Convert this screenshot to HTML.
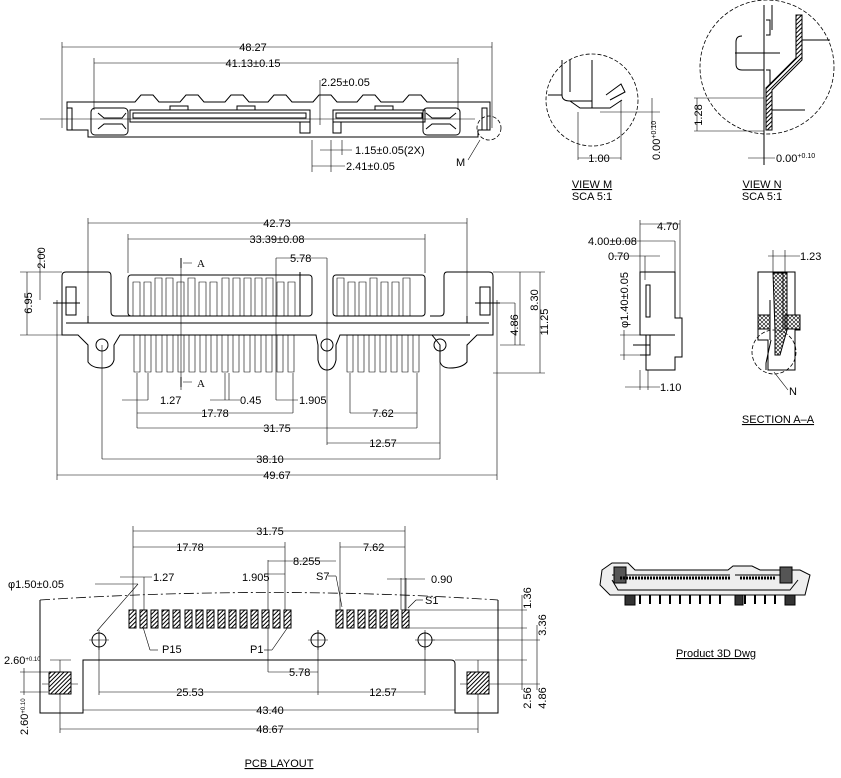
<!DOCTYPE html>
<html><head><meta charset="utf-8"><style>
html,body{margin:0;padding:0;background:#fff;width:841px;height:778px;overflow:hidden}
svg{display:block}
text{font-family:"Liberation Sans Narrow","Liberation Sans",sans-serif;font-size:11px;fill:#000}
.l{stroke:#000;stroke-width:1;fill:none}
.t{stroke:#000;stroke-width:0.6;fill:none}
.d{stroke:#000;stroke-width:0.8;fill:none;stroke-dasharray:4 2}
</style></head><body>
<svg width="841" height="778" viewBox="0 0 841 778" xmlns="http://www.w3.org/2000/svg">
<defs>
<pattern id="h" width="3" height="3" patternUnits="userSpaceOnUse" patternTransform="rotate(45)"><rect width="3" height="3" fill="#fff"/><line x1="1.5" y1="0" x2="1.5" y2="3" stroke="#000" stroke-width="1"/></pattern>
<pattern id="x" width="4" height="4" patternUnits="userSpaceOnUse"><path d="M0 0L4 4M4 0L0 4" stroke="#000" stroke-width="0.6"/></pattern>
</defs>

<!-- ===== TOP VIEW ===== -->
<g class="t">
<line x1="62" y1="47" x2="492" y2="47"/><line x1="62" y1="42" x2="62" y2="128"/><line x1="492" y1="42" x2="492" y2="128"/>
<line x1="94" y1="63" x2="458" y2="63"/><line x1="94" y1="58" x2="94" y2="110"/><line x1="458" y1="58" x2="458" y2="110"/>
<line x1="320" y1="80" x2="320" y2="125"/>
<line x1="312" y1="172" x2="312" y2="140"/><line x1="331" y1="172" x2="331" y2="140"/><line x1="342" y1="155" x2="342" y2="140"/>
<line x1="312" y1="166" x2="345" y2="166"/><line x1="320" y1="150" x2="352" y2="150"/>
<line x1="40" y1="119" x2="475" y2="119"/>
<line x1="480" y1="140" x2="468" y2="160"/>
</g>
<g class="l">
<path d="M67 102 H135 L141 95 H153 L159 102 H180 L186 95 H198 L204 102 H225 L231 95 H243 L249 102 H268 L274 95 H286 L292 102 H313 L319 95 H331 L337 102 H357 L363 95 H375 L381 102 H403 L409 95 H421 L427 102 H490 V130 H478 V137 H88 V130 H67 Z"/>
<rect x="91" y="108" width="37" height="27" rx="4"/>
<rect x="423" y="108" width="37" height="27" rx="4"/>
<path d="M98 113 L104 118 H122 L126 113 M98 129 L104 124 H122 L126 129"/>
<path d="M426 113 L432 118 H450 L456 113 M426 129 L432 124 H450 L456 129"/>
<rect x="130" y="110" width="180" height="12"/><rect x="133" y="113" width="173" height="5"/>
<rect x="333" y="110" width="92" height="12"/><rect x="336" y="113" width="86" height="5"/>
<rect x="170" y="106" width="18" height="4"/><rect x="237" y="106" width="18" height="4"/><rect x="375" y="106" width="18" height="4"/>
<path d="M300 122 V133 H310 V122 M333 122 V133 H341 V122"/>
<rect x="67" y="108" width="5" height="22"/><rect x="482" y="108" width="5" height="22"/>
</g>
<circle cx="489" cy="128" r="12" class="d"/>
<text x="321" y="86">2.25±0.05</text>
<text x="355" y="154">1.15±0.05(2X)</text>
<text x="346" y="170">2.41±0.05</text>
<text x="456" y="166">M</text>
<text x="253" y="51" text-anchor="middle">48.27</text>
<text x="253" y="67" text-anchor="middle">41.13±0.15</text>

<!-- ===== FRONT VIEW ===== -->
<g class="t">
<line x1="88" y1="223" x2="467" y2="223"/><line x1="88" y1="218" x2="88" y2="320"/><line x1="467" y1="218" x2="467" y2="320"/>
<line x1="128" y1="239" x2="425" y2="239"/><line x1="128" y1="234" x2="128" y2="273"/><line x1="425" y1="234" x2="425" y2="273"/>
<line x1="276" y1="258" x2="327" y2="258"/><line x1="276" y1="258" x2="276" y2="400"/><line x1="327" y1="258" x2="327" y2="445"/>
<line x1="20" y1="272" x2="62" y2="272"/><line x1="20" y1="335" x2="62" y2="335"/>
<line x1="40" y1="250" x2="40" y2="300"/><line x1="27" y1="272" x2="27" y2="335"/>
<line x1="493" y1="272" x2="545" y2="272"/><line x1="540" y1="272" x2="540" y2="373"/><line x1="493" y1="373" x2="545" y2="373"/>
<line x1="520" y1="272" x2="520" y2="345"/><line x1="500" y1="345" x2="525" y2="345"/>
<line x1="480" y1="303" x2="515" y2="303"/><line x1="515" y1="303" x2="515" y2="345"/>
<line x1="122" y1="400" x2="148" y2="400"/><line x1="137" y1="373" x2="137" y2="400"/><line x1="148" y1="373" x2="148" y2="400"/>
<line x1="210" y1="400" x2="240" y2="400"/><line x1="225" y1="373" x2="225" y2="400"/><line x1="229" y1="373" x2="229" y2="400"/>
<line x1="276" y1="400" x2="298" y2="400"/><line x1="293" y1="373" x2="293" y2="413"/>
<line x1="137" y1="413" x2="293" y2="413"/><line x1="137" y1="400" x2="137" y2="428"/>
<line x1="350" y1="413" x2="417" y2="413"/><line x1="350" y1="373" x2="350" y2="413"/><line x1="417" y1="373" x2="417" y2="428"/>
<line x1="137" y1="428" x2="417" y2="428"/>
<line x1="327" y1="443" x2="440" y2="443"/><line x1="440" y1="345" x2="440" y2="459"/>
<line x1="102" y1="459" x2="440" y2="459"/><line x1="102" y1="345" x2="102" y2="459"/>
<line x1="57" y1="475" x2="497" y2="475"/><line x1="57" y1="300" x2="57" y2="480"/><line x1="497" y1="300" x2="497" y2="480"/>
<line x1="181" y1="258" x2="181" y2="390"/>
</g>
<g class="l">
<path d="M62 276 Q62 272 66 272 H108 Q111 272 111 276 V312 Q111 316 115 316 H300 V272 M62 276 V335 H78 L88 345 V362 Q92 368 102 368 Q112 368 114 360 V345 L120 335 H316 L318 345 V360 Q320 370 327 370 Q334 370 336 360 V345 L340 335 H470"/>
<path d="M493 276 Q493 272 489 272 H447 Q444 272 444 276 V312 Q444 316 440 316 H430 M493 276 V335 H477 L467 345 V362 Q462 368 450 368 Q442 368 440 362 V345 L432 335"/>
<path d="M88 316 V323 H467 V316"/>
<path d="M66 323 H88 M467 323 H489"/>
<rect x="128" y="275" width="184" height="41" rx="3"/>
<rect x="333" y="275" width="92" height="41" rx="3"/>
<rect x="66" y="287" width="10" height="28"/><rect x="480" y="287" width="10" height="28"/>
<line x1="53" y1="303" x2="80" y2="303"/><line x1="475" y1="303" x2="500" y2="303"/>
</g>
<g class="t">
<path d="M133 316V282h7v34 M144 316V282h7v34 M155 316V278h7v38 M166 316V278h7v38 M177 316V282h7v34 M188 316V278h7v38 M199 316V282h7v34 M210 316V282h7v34 M222 316V278h7v38 M233 316V278h7v38 M244 316V278h7v38 M255 316V278h7v38 M266 316V278h7v38 M277 316V282h7v34 M288 316V282h7v34"/>
<path d="M337 316V278h7v38 M348 316V282h7v34 M359 316V282h7v34 M370 316V278h7v38 M381 316V282h7v34 M392 316V282h7v34 M403 316V278h7v38"/>
<path d="M134 335V372h6V335 M145 335V372h6V335 M156 335V372h6V335 M167 335V372h6V335 M178 335V372h6V335 M189 335V372h6V335 M200 335V372h6V335 M211 335V372h6V335 M222 335V372h6V335 M233 335V372h6V335 M244 335V372h6V335 M255 335V372h6V335 M266 335V372h6V335 M277 335V372h6V335 M288 335V372h6V335"/>
<path d="M347 335V372h6V335 M358 335V372h6V335 M369 335V372h6V335 M380 335V372h6V335 M391 335V372h6V335 M402 335V372h6V335 M413 335V372h6V335"/>
</g>
<circle cx="102" cy="345" r="6" class="l"/><circle cx="327" cy="345" r="6" class="l"/><circle cx="440" cy="345" r="6" class="l"/>
<g class="l" stroke-width="2"><line x1="181" y1="258" x2="181" y2="268"/><line x1="181" y1="377" x2="181" y2="387"/></g>
<path d="M183 263 H192 M183 382 H192" class="t"/>
<text x="197" y="267" style="font-family:'Liberation Serif',serif">A</text>
<text x="197" y="387" style="font-family:'Liberation Serif',serif">A</text>
<text x="277" y="227" text-anchor="middle">42.73</text>
<text x="277" y="243" text-anchor="middle">33.39±0.08</text>
<text x="290" y="262">5.78</text>
<text x="160" y="404">1.27</text>
<text x="240" y="404">0.45</text>
<text x="299" y="404">1.905</text>
<text x="215" y="417" text-anchor="middle">17.78</text>
<text x="383" y="417" text-anchor="middle">7.62</text>
<text x="277" y="432" text-anchor="middle">31.75</text>
<text x="383" y="447" text-anchor="middle">12.57</text>
<text x="270" y="463" text-anchor="middle">38.10</text>
<text x="277" y="479" text-anchor="middle">49.67</text>
<text transform="translate(45,258) rotate(-90)" text-anchor="middle">2.00</text>
<text transform="translate(32,303) rotate(-90)" text-anchor="middle">6.95</text>
<text transform="translate(518,325) rotate(-90)" text-anchor="middle">4.86</text>
<text transform="translate(538,300) rotate(-90)" text-anchor="middle">8.30</text>
<text transform="translate(548,322) rotate(-90)" text-anchor="middle">11.25</text>

<!-- ===== VIEW M ===== -->
<circle cx="592" cy="100" r="46" class="d"/>
<g class="l">
<path d="M562 60 V95 Q562 101 570 101 H592 M570 60 V92 M562 95 H548 M592 60 V108 M610 100 L625 92 L621 84 L606 95"/>
<path d="M570 101 L580 108 H610 L622 100"/>
</g>
<g class="t"><line x1="578" y1="112" x2="578" y2="160"/><line x1="621" y1="100" x2="621" y2="160"/><line x1="578" y1="158" x2="621" y2="158"/><line x1="600" y1="112" x2="660" y2="112"/><line x1="652" y1="98" x2="652" y2="130"/></g>
<text x="599" y="162" text-anchor="middle">1.00</text>
<text transform="translate(660,160) rotate(-90)" font-size="10">0.00<tspan font-size="7" dy="-4">+0.10</tspan></text>
<text x="592" y="188" text-anchor="middle" text-decoration="underline">VIEW  M</text>
<text x="592" y="200" text-anchor="middle">SCA  5:1</text>

<!-- ===== VIEW N ===== -->
<circle cx="767" cy="67" r="67" class="d"/>
<g class="l">
<line x1="764" y1="5" x2="764" y2="165"/><line x1="772" y1="5" x2="772" y2="30"/>
<path d="M766 20 H770 V35 H766 M766 70 H770 V85"/>
<path d="M742 36 Q736 36 736 42 V64 Q736 70 742 70 H764 M735 53 H780"/>
<path d="M796 15 H802 V60 L772 90 V130 H766 V88 L796 58 Z" fill="url(#h)"/>
<line x1="772" y1="130" x2="772" y2="120"/><line x1="802" y1="40" x2="830" y2="40"/><line x1="772" y1="110" x2="805" y2="110"/>
</g>
<g class="t"><line x1="694" y1="98" x2="764" y2="98"/><line x1="694" y1="131" x2="764" y2="131"/><line x1="697" y1="98" x2="697" y2="131"/><line x1="748" y1="158" x2="775" y2="158"/></g>
<text transform="translate(702,115) rotate(-90)" text-anchor="middle">1.28</text>
<text x="776" y="162">0.00<tspan font-size="7" dy="-4">+0.10</tspan></text>
<text x="762" y="188" text-anchor="middle" text-decoration="underline">VIEW  N</text>
<text x="762" y="200" text-anchor="middle">SCA  5:1</text>

<!-- ===== SIDE VIEW ===== -->
<g class="l">
<path d="M640 272 H675 V318 H682 V357 H675 V370 H646 V335 H640 Z"/>
<line x1="646" y1="335" x2="675" y2="335"/>
<rect x="646" y="285" width="4" height="32"/>
<path d="M640 335 H650 V355 H640 M633 345 H650"/>
</g>
<g class="t">
<line x1="640" y1="224" x2="680" y2="224"/><line x1="640" y1="220" x2="640" y2="272"/><line x1="680" y1="220" x2="680" y2="318"/>
<line x1="612" y1="241" x2="675" y2="241"/><line x1="675" y1="241" x2="675" y2="272"/>
<line x1="612" y1="256" x2="660" y2="256"/><line x1="645" y1="256" x2="645" y2="280"/>
<line x1="620" y1="335" x2="640" y2="335"/><line x1="620" y1="355" x2="640" y2="355"/><line x1="624" y1="330" x2="624" y2="360"/>
<line x1="625" y1="387" x2="660" y2="387"/><line x1="640" y1="370" x2="640" y2="390"/><line x1="648" y1="370" x2="648" y2="390"/>
</g>
<text x="657" y="230">4.70</text>
<text x="588" y="245">4.00±0.08</text>
<text x="608" y="260">0.70</text>
<text transform="translate(628,300) rotate(-90)" text-anchor="middle">φ1.40±0.05</text>
<text x="660" y="391">1.10</text>

<!-- ===== SECTION A-A ===== -->
<g class="l">
<path d="M758 272 H795 V315 H800 V330 H795 V370 H768 V340 H758 V330 H758 Z"/>
<rect x="758" y="315" width="12" height="14" fill="url(#x)"/>
<rect x="785" y="315" width="15" height="14" fill="url(#x)"/>
<path d="M773 273 H787 V330 L780 355 H775 V330 Z" fill="url(#x)"/>
<path d="M770 300 V340 M783 272 V330"/>
<path d="M771 340 L766 363 V370"/>
</g>
<circle cx="774" cy="352" r="22" class="d"/>
<g class="t"><line x1="768" y1="256" x2="800" y2="256"/><line x1="773" y1="250" x2="773" y2="273"/><line x1="785" y1="250" x2="785" y2="273"/><line x1="774" y1="372" x2="788" y2="390"/></g>
<text x="800" y="260">1.23</text>
<text x="789" y="395">N</text>
<text x="778" y="423" text-anchor="middle" text-decoration="underline">SECTION  A–A</text>

<!-- ===== 3D ===== -->
<g class="l">
<path d="M602 570 L612 563 H628 L635 570 H728 L733 566 H752 L760 570 H800 L810 575 L805 595 H610 L600 585 Z" fill="#eee"/>
<path d="M612 575 H730 M735 575 H780 M612 580 L618 590 H790 L798 580" />
<rect x="614" y="567" width="12" height="16" fill="#555"/>
<rect x="780" y="567" width="12" height="16" fill="#555"/>
<path d="M620 578 H730" stroke-dasharray="2 1" stroke-width="3"/>
<path d="M740 578 H775" stroke-dasharray="2 1" stroke-width="3"/>
<path d="M640 595 V604 M650 595 V604 M660 595 V604 M670 595 V604 M680 595 V604 M690 595 V604 M700 595 V604 M710 595 V604 M720 595 V604 M745 595 V604 M755 595 V604 M765 595 V604 M775 595 V604" stroke-width="2"/>
<rect x="625" y="595" width="10" height="10" fill="#333"/>
<rect x="735" y="595" width="8" height="10" fill="#333"/>
<rect x="785" y="595" width="10" height="10" fill="#333"/>
</g>
<text x="716" y="657" text-anchor="middle" text-decoration="underline">Product  3D  Dwg</text>

<!-- ===== PCB LAYOUT ===== -->
<g class="t">
<line x1="133" y1="531" x2="405" y2="531"/><line x1="133" y1="526" x2="133" y2="610"/><line x1="405" y1="526" x2="405" y2="610"/>
<line x1="133" y1="547" x2="285" y2="547"/><line x1="285" y1="542" x2="285" y2="610"/>
<line x1="340" y1="547" x2="405" y2="547"/><line x1="340" y1="542" x2="340" y2="610"/>
<line x1="268" y1="561" x2="336" y2="561"/><line x1="268" y1="560" x2="268" y2="672"/>
<line x1="120" y1="577" x2="152" y2="577"/><line x1="144" y1="577" x2="144" y2="610"/>
<line x1="268" y1="574" x2="285" y2="574"/>
<line x1="387" y1="579" x2="425" y2="579"/><line x1="401" y1="578" x2="401" y2="610"/><line x1="406" y1="578" x2="406" y2="610"/>
<line x1="408" y1="610" x2="527" y2="610"/><line x1="408" y1="628" x2="527" y2="628"/><line x1="432" y1="640" x2="540" y2="640"/>
<line x1="455" y1="660" x2="527" y2="660"/><line x1="488" y1="684" x2="540" y2="684"/>
<line x1="522" y1="595" x2="522" y2="690"/><line x1="537" y1="625" x2="537" y2="690"/>
<line x1="268" y1="672" x2="318" y2="672"/><line x1="318" y1="630" x2="318" y2="695"/>
<line x1="99" y1="632" x2="99" y2="695"/><line x1="425" y1="632" x2="425" y2="695"/>
<line x1="99" y1="692" x2="425" y2="692"/>
<line x1="83" y1="710" x2="455" y2="710"/>
<line x1="60" y1="660" x2="60" y2="733"/><line x1="478" y1="660" x2="478" y2="733"/><line x1="60" y1="729" x2="478" y2="729"/>
<line x1="42" y1="684" x2="78" y2="684"/><line x1="460" y1="684" x2="478" y2="684"/>
<line x1="50" y1="660" x2="71" y2="660"/>
<line x1="20" y1="672" x2="48" y2="672"/><line x1="20" y1="692" x2="48" y2="692"/><line x1="24" y1="668" x2="24" y2="695"/>
<line x1="95" y1="584" x2="138" y2="584"/><line x1="138" y1="584" x2="97" y2="631"/>
<line x1="143" y1="627" x2="150" y2="650"/><line x1="150" y1="650" x2="158" y2="650"/>
<line x1="288" y1="627" x2="272" y2="650"/><line x1="264" y1="650" x2="272" y2="650"/>
<line x1="328" y1="576" x2="336" y2="576"/><line x1="336" y1="576" x2="342" y2="607"/>
<line x1="408" y1="608" x2="416" y2="600"/><line x1="416" y1="600" x2="423" y2="600"/>
</g>
<path d="M40 600 Q270 585 498 600" class="d" style="stroke-dasharray:10 3 2 3"/>
<path d="M40 600 V713 H83 V660 Q83 660 87 660 H451 Q455 660 455 664 V713 H498 V600" class="l"/>
<g style="fill:url(#h);stroke:#000;stroke-width:1">
<rect x="129" y="610" width="7" height="18"/><rect x="140" y="610" width="7" height="18"/><rect x="151" y="610" width="7" height="18"/><rect x="162" y="610" width="7" height="18"/><rect x="173" y="610" width="7" height="18"/><rect x="185" y="610" width="7" height="18"/><rect x="196" y="610" width="7" height="18"/><rect x="207" y="610" width="7" height="18"/><rect x="218" y="610" width="7" height="18"/><rect x="229" y="610" width="7" height="18"/><rect x="240" y="610" width="7" height="18"/><rect x="251" y="610" width="7" height="18"/><rect x="262" y="610" width="7" height="18"/><rect x="273" y="610" width="7" height="18"/><rect x="284" y="610" width="7" height="18"/>
<rect x="336" y="610" width="7" height="18"/><rect x="347" y="610" width="7" height="18"/><rect x="358" y="610" width="7" height="18"/><rect x="369" y="610" width="7" height="18"/><rect x="380" y="610" width="7" height="18"/><rect x="391" y="610" width="7" height="18"/><rect x="402" y="610" width="7" height="18"/>
<rect x="49" y="672" width="22" height="22"/><rect x="467" y="672" width="22" height="22"/>
</g>
<g class="l"><circle cx="99" cy="640" r="7"/><circle cx="318" cy="640" r="7"/><circle cx="425" cy="640" r="7"/>
<path d="M89 640H109M99 630V650M308 640H328M318 630V650M415 640H435M425 630V650" stroke-width="0.6"/></g>
<text x="270" y="535" text-anchor="middle">31.75</text>
<text x="190" y="551" text-anchor="middle">17.78</text>
<text x="363" y="551">7.62</text>
<text x="293" y="565">8.255</text>
<text x="153" y="581">1.27</text>
<text x="242" y="581">1.905</text>
<text x="316" y="580">S7</text>
<text x="431" y="583">0.90</text>
<text x="425" y="604">S1</text>
<text x="8" y="588">φ1.50±0.05</text>
<text x="162" y="653">P15</text>
<text x="250" y="653">P1</text>
<text x="289" y="676">5.78</text>
<text x="190" y="696" text-anchor="middle">25.53</text>
<text x="383" y="696" text-anchor="middle">12.57</text>
<text x="270" y="714" text-anchor="middle">43.40</text>
<text x="270" y="733" text-anchor="middle">48.67</text>
<text x="4" y="664">2.60<tspan font-size="6" dy="-3">+0.10</tspan></text>
<text transform="translate(28,735) rotate(-90)">2.60<tspan font-size="6" dy="-3">+0.10</tspan></text>
<text transform="translate(531,598) rotate(-90)" text-anchor="middle">1.36</text>
<text transform="translate(546,625) rotate(-90)" text-anchor="middle">3.36</text>
<text transform="translate(531,698) rotate(-90)" text-anchor="middle">2.56</text>
<text transform="translate(546,698) rotate(-90)" text-anchor="middle">4.86</text>
<text x="279" y="767" text-anchor="middle" text-decoration="underline">PCB  LAYOUT</text>
</svg>
</body></html>
